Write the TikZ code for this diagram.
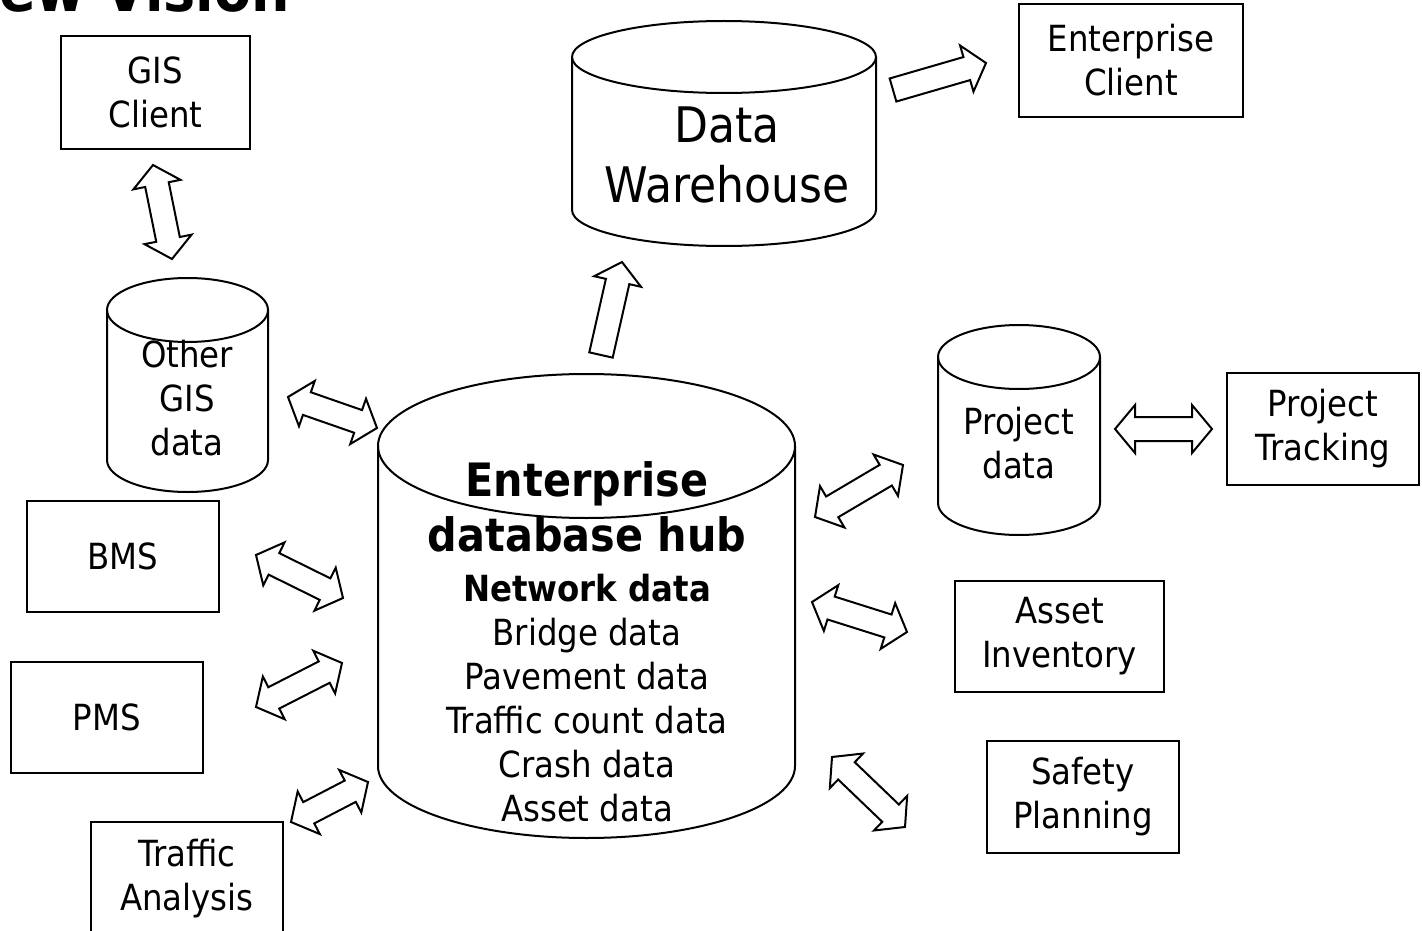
\documentclass[tikz,border=0pt]{standalone}
\usepackage{fontspec}
\setmainfont{DejaVu Sans Condensed}
\usetikzlibrary{calc}

\newcommand\bodysize{\fontsize{36}{44}\selectfont}
\newcommand\hubsize{\fontsize{46}{55}\selectfont\bfseries}
\newcommand\dwsize{\fontsize{49}{60}\selectfont}
\newcommand\headlen{20pt}
\newcommand\headw{24pt}
\newcommand\shaftw{12pt}

% outlined arrow with a head at both ends
\newcommand\dblarrow[2]{%
  \draw[fat] (#1)
    -- ($(#1)!\headlen!(#2)!\headw!90:(#2)$)
    -- ($(#1)!\headlen!(#2)!\shaftw!90:(#2)$)
    -- ($(#2)!\headlen!(#1)!\shaftw!-90:(#1)$)
    -- ($(#2)!\headlen!(#1)!\headw!-90:(#1)$)
    -- (#2)
    -- ($(#2)!\headlen!(#1)!\headw!90:(#1)$)
    -- ($(#2)!\headlen!(#1)!\shaftw!90:(#1)$)
    -- ($(#1)!\headlen!(#2)!\shaftw!-90:(#2)$)
    -- ($(#1)!\headlen!(#2)!\headw!-90:(#2)$)
    -- cycle;}
% outlined arrow, flat tail at #1
\newcommand\onearrow[2]{%
  \draw[fat] ($(#1)!\shaftw!90:(#2)$)
    -- ($(#2)!\headlen!(#1)!\shaftw!-90:(#1)$)
    -- ($(#2)!\headlen!(#1)!\headw!-90:(#1)$)
    -- (#2)
    -- ($(#2)!\headlen!(#1)!\headw!90:(#1)$)
    -- ($(#2)!\headlen!(#1)!\shaftw!90:(#1)$)
    -- ($(#1)!\shaftw!-90:(#2)$)
    -- cycle;}
% database drum: centre x, half width, top y, bottom y, ellipse radius
\newcommand\drum[5]{%
  \draw[line] (#1-#2,#3) -- (#1-#2,#4)
    arc[start angle=180, end angle=360, x radius=#2pt, y radius=#5pt] -- (#1+#2,#3);
  \draw[line] (#1,#3) ellipse[x radius=#2pt, y radius=#5pt];}

\begin{document}
\begin{tikzpicture}[x=1pt, y=-1pt,
    line/.style={line width=2pt},
    fat/.style={line, line join=miter},
    box/.style={rectangle, draw, line, align=center, font=\bodysize, inner sep=0pt},
    txt/.style={align=center, font=\bodysize, inner sep=0pt}]

  \useasboundingbox (0,0) rectangle (1422,931);

  % heading, mostly outside the page
  \node[anchor=base east, inner sep=0pt, font=\fontsize{60}{72}\selectfont\bfseries] (title) at (290,12) {New Vision};

  % databases
  \drum{724}{152}{57}{210}{36}
  \node[txt, font=\dwsize] (dw) at (727,155) {Data\\Warehouse};
  \drum{187.5}{80.5}{310}{460}{32}
  \node[txt] (gisdata) at (187,398) {Other\\GIS\\data};
  \drum{1019}{81}{357}{503}{32}
  \node[txt] (projdata) at (1019,443) {Project\\data};
  \drum{586.5}{208.5}{446}{766}{72}
  \node[txt, font=\hubsize] (hub) at (587,507) {Enterprise\\database hub};
  \node[txt] (hubdata) at (587,698) {\textbf{Network data}\\Bridge data\\Pavement data\\Traffic count data\\Crash data\\Asset data};

  % clients
  \node[box, minimum width=189, minimum height=113] (gis) at (155.5,92.5) {GIS\\Client};
  \node[box, minimum width=224, minimum height=113] (client) at (1131,60.5) {Enterprise\\Client};
  \node[box, minimum width=192, minimum height=112] (tracking) at (1323,429) {Project\\Tracking};
  \node[box, minimum width=192, minimum height=111] (bms) at (123,556.5) {BMS};
  \node[box, minimum width=192, minimum height=111] (pms) at (107,717.5) {PMS};
  \node[box, minimum width=192, minimum height=113] (traffic) at (187,878.5) {Traffic\\Analysis};
  \node[box, minimum width=209, minimum height=111] (asset) at (1059.5,636.5) {Asset\\Inventory};
  \node[box, minimum width=192, minimum height=112] (safety) at (1083,797) {Safety\\Planning};

  % arrow ends
  \coordinate (gis-e) at (153,165);
  \coordinate (gisdata-e) at (172,259);
  \coordinate (hub-up) at (601,355);
  \coordinate (dw-in) at (622,262);
  \coordinate (dw-out) at (893,90);
  \coordinate (client-in) at (986,63);
  \coordinate (proj-r) at (1115,429);
  \coordinate (tracking-l) at (1212,429);
  \coordinate (gisdata-r) at (288,397);
  \coordinate (hub-gis) at (377,428);
  \coordinate (bms-r) at (256,555);
  \coordinate (hub-bms) at (343,598);
  \coordinate (pms-r) at (256,707);
  \coordinate (hub-pms) at (342,663);
  \coordinate (traffic-r) at (291,822);
  \coordinate (hub-traffic) at (368,782);
  \coordinate (hub-proj) at (815,517);
  \coordinate (proj-l) at (903,465);
  \coordinate (hub-asset) at (812,602);
  \coordinate (asset-l) at (907,632);
  \coordinate (hub-safety) at (832,757);
  \coordinate (safety-l) at (905,827);

  \dblarrow{gis-e}{gisdata-e}
  \onearrow{hub-up}{dw-in}
  \onearrow{dw-out}{client-in}
  \dblarrow{proj-r}{tracking-l}
  \dblarrow{gisdata-r}{hub-gis}
  \dblarrow{bms-r}{hub-bms}
  \dblarrow{pms-r}{hub-pms}
  \dblarrow{traffic-r}{hub-traffic}
  \dblarrow{hub-proj}{proj-l}
  \dblarrow{hub-asset}{asset-l}
  \dblarrow{hub-safety}{safety-l}

\end{tikzpicture}
\end{document}
